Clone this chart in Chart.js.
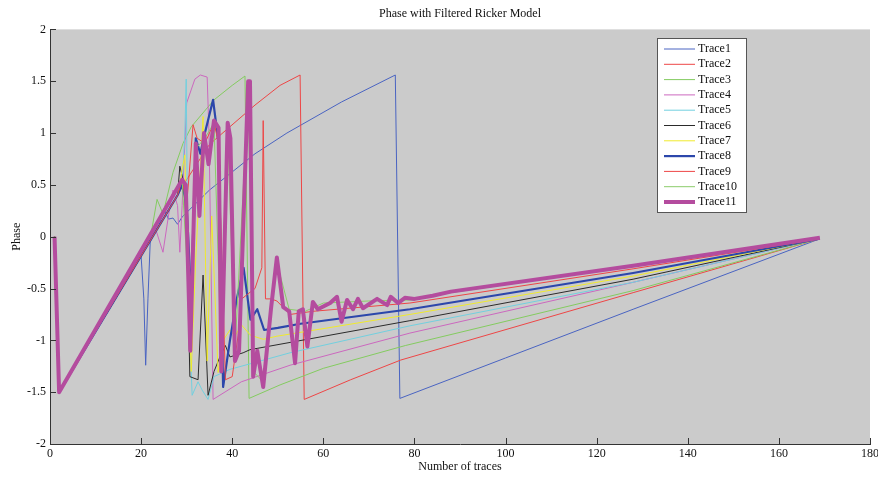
<!DOCTYPE html>
<html>
<head>
<meta charset="utf-8">
<script src="https://cdn.jsdelivr.net/npm/chart.js@4.4.1/dist/chart.umd.min.js"></script>
<style>
  html, body { margin: 0; padding: 0; background: #fff; }
  #wrap { width: 878px; height: 477px; }
</style>
</head>
<body>
<div id="wrap"><canvas id="phase" width="878" height="477"></canvas></div>
<script>
// [trace number, phase] pairs
const trace1 = [[1,0],[2,-1.5],[20,-0.19],[20.6,-0.6],[21,-1.24],[21.5,-0.6],[22,-0.05],[23,0.05],[24,0.12],[25,0.27],[26,0.17],[27,0.18],[28,0.12],[29,0.19],[35,0.45],[45,0.8],[52,1.0],[64,1.3],[75.8,1.56],[76.8,-1.56],[100,-1.17],[128,-0.7],[169,-0.02]];
const trace2 = [[1,0],[2,-1.5],[28,0.4],[30,0.55],[35,0.89],[45,1.27],[50.5,1.46],[54.9,1.56],[55.8,-1.57],[66,-1.38],[77,-1.19],[128,-0.54],[169,-0.02]];
const trace3 = [[1,0],[2,-1.5],[20,-0.19],[22,-0.02],[23.5,0.36],[24.8,0.22],[27,0.62],[29.2,0.9],[31,1.06],[36,1.32],[40,1.46],[42.8,1.55],[43.7,-1.56],[50.5,-1.43],[60,-1.27],[78,-1.05],[128,-0.52],[169,-0.02]];
const trace4 = [[1,0],[2,-1.5],[22,-0.04],[23,0.1],[24.8,-0.15],[26,0.2],[27,0.45],[28,0.3],[28.5,-0.15],[29,0.3],[29.5,0.8],[30,1.29],[31.8,1.52],[33,1.56],[34.5,1.54],[34.9,1.0],[35.8,-1.57],[42,-1.4],[52.7,-1.24],[79,-0.93],[128,-0.44],[169,-0.02]];
const trace5 = [[1,0],[2,-1.5],[28,0.4],[29,0.5],[29.6,1.0],[29.9,1.52],[30.3,-0.5],[31.2,-1.53],[32.5,-1.4],[33.4,-1.48],[34.7,-1.57],[36,-1.35],[39.5,-1.28],[52.7,-1.12],[79,-0.86],[128,-0.44],[169,-0.02]];
const trace6 = [[1,0],[2,-1.5],[28,0.4],[28.5,0.68],[29.5,0.5],[30.2,-0.3],[30.7,-1.35],[32.5,-1.38],[33.6,-0.37],[34.7,-1.53],[36,-1.3],[37.3,-1.16],[38.5,-1.05],[39.5,-1.16],[42.4,-1.12],[43.9,-1.09],[52.7,-1.02],[79,-0.81],[128,-0.41],[169,-0.02]];
const trace7 = [[1,0],[2,-1.5],[28,0.4],[29.6,0.79],[30.3,-0.5],[31,-1.3],[32,-0.2],[33.6,1.16],[34.5,-1.2],[35.5,0.2],[36.9,-1.31],[38,-1.0],[39.5,-0.9],[40.6,-0.96],[42,-0.85],[44,-0.95],[46.8,-0.99],[49.8,-0.96],[79,-0.75],[128,-0.38],[169,-0.02]];
const trace8 = [[1,0],[2,-1.5],[28,0.4],[29,0.5],[30,0.3],[31,-0.6],[32,0.95],[33,0.8],[34,1.0],[35.8,1.32],[37,0.9],[38,-1.45],[39.5,-1.0],[41,-0.6],[42.5,-0.3],[44,-0.8],[45.5,-0.7],[47,-0.9],[50,-0.88],[55,-0.84],[79,-0.7],[128,-0.35],[169,-0.02]];
const trace9 = [[1,0],[2,-1.5],[28,0.4],[29,0.55],[30,0.3],[31.4,1.08],[32.3,0.95],[34,0.9],[36,1.1],[37,0.9],[38.5,-1.38],[40,-1.35],[41.3,-0.95],[42.1,-0.6],[43.5,-0.55],[45,-0.5],[46.5,-0.3],[46.8,1.12],[47.3,-0.6],[48.5,-0.6],[49.8,-0.62],[52.7,-0.75],[57.7,-0.72],[79,-0.64],[128,-0.31],[169,-0.02]];
const trace10 = [[1,0],[2,-1.5],[29,0.55],[31,-1.0],[32,0.85],[34,0.95],[36,1.1],[37.6,-1.2],[39,1.0],[40.6,-1.1],[43.5,1.4],[44.6,-1.3],[46.8,-1.4],[49.8,-0.25],[52.5,-0.7],[56,-0.72],[60,-0.64],[70,-0.62],[80,-0.61],[88,-0.54],[169,-0.02]];
const trace11 = [[1,0],[2,-1.5],[29,0.55],[29.8,0.5],[30.8,-1.1],[32,0.9],[32.8,0.2],[33.8,1.0],[34.8,0.7],[36,1.12],[37,1.05],[37.6,-1.3],[39,1.1],[39.6,0.95],[40.6,-1.2],[41.5,-1.1],[43.5,1.5],[43.9,1.5],[44.6,-1.35],[45.5,-1.1],[46.8,-1.45],[48.5,-0.7],[49.8,-0.2],[51.2,-0.68],[52.5,-0.72],[53.8,-1.22],[54.6,-0.72],[55.5,-0.7],[56.5,-1.06],[57.7,-0.63],[58.8,-0.7],[61.5,-0.64],[63,-0.58],[64,-0.82],[65.2,-0.61],[66.5,-0.7],[67.6,-0.6],[68.7,-0.69],[71.8,-0.6],[74,-0.66],[74.8,-0.58],[76.4,-0.64],[77.9,-0.59],[80,-0.6],[84,-0.57],[88,-0.53],[128,-0.28],[169,-0.01]];

const traceNames = ["Trace1", "Trace2", "Trace3", "Trace4", "Trace5", "Trace6", "Trace7", "Trace8", "Trace9", "Trace10", "Trace11"];
const traces = [trace1, trace2, trace3, trace4, trace5, trace6, trace7, trace8, trace9, trace10, trace11];
const xTicks = [0, 20, 40, 60, 80, 100, 120, 140, 160, 180];
const yTicks = [-2, -1.5, -1, -0.5, 0, 0.5, 1, 1.5, 2];

const colors = ["#4a64c2", "#ee4646", "#84cc60", "#cc68bf", "#72d0df", "#2b2b2b", "#f0ea2c", "#2c47ab", "#ee4646", "#8ccc6a", "#b44c9e"];
const widths = [1, 1, 1, 1, 1, 1, 1, 2.2, 1, 1, 4];
const serif = "'Liberation Serif', 'Times New Roman', serif";

// gray axes background
const plotBg = {
  id: "plotBg",
  beforeDraw(chart) {
    const { ctx, chartArea: a } = chart;
    ctx.save();
    ctx.fillStyle = "#cbcbcb";
    ctx.fillRect(a.left, a.top, a.right - a.left, a.bottom - a.top);
    ctx.restore();
  }
};

// matlab style inward tick marks
const innerTicks = {
  id: "innerTicks",
  afterDatasetsDraw(chart) {
    const { ctx, chartArea: a, scales } = chart;
    ctx.save();
    ctx.strokeStyle = "#333";
    ctx.lineWidth = 1;
    ctx.beginPath();
    xTicks.forEach(v => {
      const px = Math.round(scales.x.getPixelForValue(v)) + 0.5;
      ctx.moveTo(px, a.bottom);
      ctx.lineTo(px, a.bottom - 6);
    });
    yTicks.forEach(v => {
      const py = Math.round(scales.y.getPixelForValue(v)) + 0.5;
      ctx.moveTo(a.left, py);
      ctx.lineTo(a.left + 6, py);
    });
    ctx.stroke();
    ctx.restore();
  }
};

// boxed legend in the upper right of the axes
const boxLegend = {
  id: "boxLegend",
  afterDraw(chart) {
    const { ctx, chartArea: a } = chart;
    const ds = chart.data.datasets;
    const x0 = a.right - 213, y0 = 38, w = 89, h = 174;
    ctx.save();
    ctx.fillStyle = "#fff";
    ctx.fillRect(x0, y0, w, h);
    ctx.strokeStyle = "#555";
    ctx.lineWidth = 1;
    ctx.strokeRect(x0 + 0.5, y0 + 0.5, w, h);
    ctx.font = "12px " + serif;
    ctx.textBaseline = "middle";
    ds.forEach((d, i) => {
      const y = y0 + 11 + i * 15.3;
      ctx.strokeStyle = d.borderColor;
      ctx.lineWidth = d.borderWidth;
      ctx.beginPath();
      ctx.moveTo(x0 + 7, y);
      ctx.lineTo(x0 + 38, y);
      ctx.stroke();
      ctx.fillStyle = "#111";
      ctx.fillText(d.label, x0 + 41, y);
    });
    ctx.restore();
  }
};

new Chart(document.getElementById("phase"), {
  type: "line",
  data: {
    datasets: traces.map((t, i) => ({
      label: traceNames[i],
      data: t.map(p => ({ x: p[0], y: p[1] })),
      borderColor: colors[i],
      borderWidth: widths[i],
      borderJoinStyle: "round",
      pointRadius: 0,
      tension: 0,
      fill: false,
      order: traces.length - 1 - i
    }))
  },
  options: {
    responsive: false,
    animation: false,
    devicePixelRatio: 1,
    layout: { padding: { right: 0 } },
    plugins: {
      legend: { display: false },
      tooltip: { enabled: false },
      title: {
        display: true,
        text: "Phase with Filtered Ricker Model",
        fullSize: false,
        color: "#111",
        font: { family: serif, size: 12, weight: "normal" },
        padding: { top: 7, bottom: 8 }
      }
    },
    scales: {
      x: {
        type: "linear",
        min: 0,
        max: 180,
        grid: { display: false, drawTicks: false },
        border: { display: true, color: "#333" },
        afterBuildTicks: s => { s.ticks = xTicks.map(v => ({ value: v })); },
        afterFit: s => { s.height = 33; s.paddingRight = 8; },
        ticks: { color: "#111", padding: 3, maxRotation: 0, font: { family: serif, size: 12 } },
        title: {
          display: true,
          text: "Number of traces",
          color: "#111",
          font: { family: serif, size: 12 },
          padding: { top: 0, bottom: 3 }
        }
      },
      y: {
        min: -2,
        max: 2,
        grid: { display: false, drawTicks: false },
        border: { display: true, color: "#333" },
        afterBuildTicks: s => { s.ticks = yTicks.map(v => ({ value: v })); },
        afterFit: s => { s.width = 50; },
        ticks: { color: "#111", padding: 4, font: { family: serif, size: 12 }, callback: v => String(v) },
        title: {
          display: true,
          text: "Phase",
          color: "#111",
          font: { family: serif, size: 12 },
          padding: { top: 10, bottom: 0 }
        }
      }
    }
  },
  plugins: [plotBg, innerTicks, boxLegend]
});
</script>
</body>
</html>
